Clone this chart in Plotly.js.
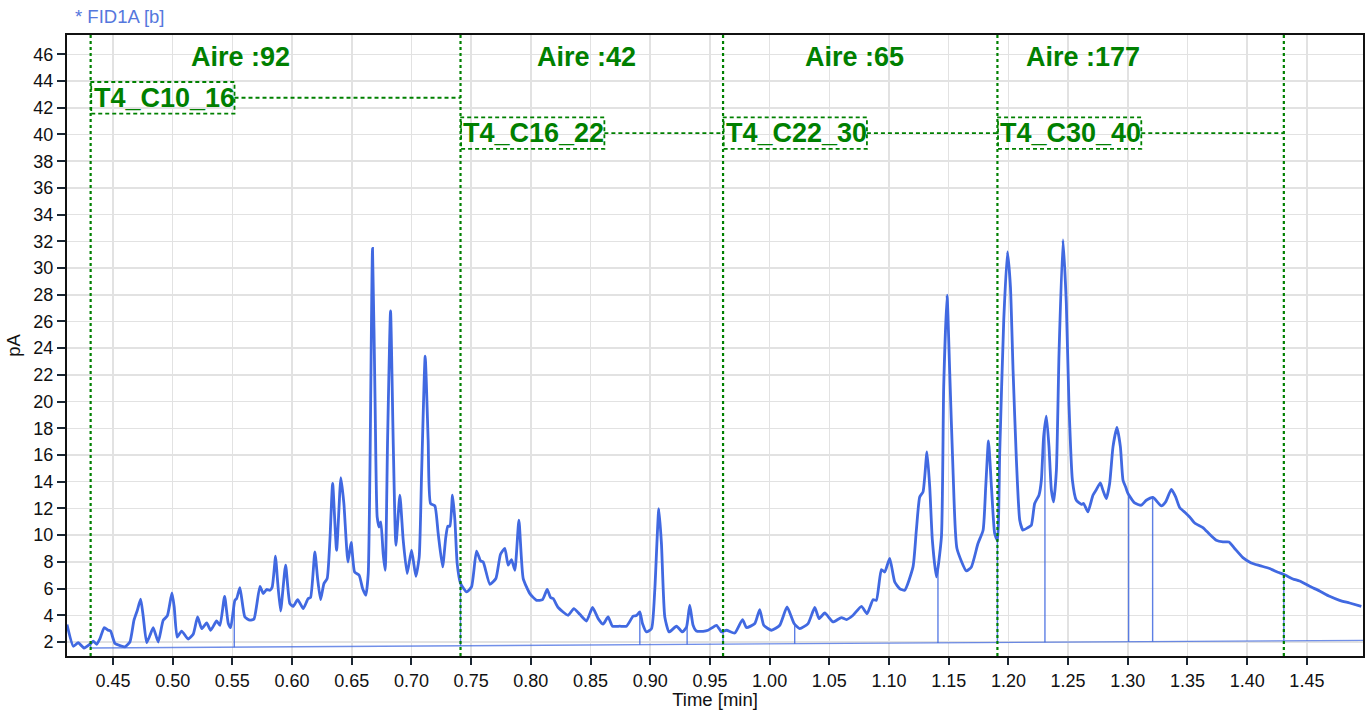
<!DOCTYPE html>
<html>
<head>
<meta charset="utf-8">
<script src="https://cdn.plot.ly/plotly-3.0.1.min.js"></script>
<style>
  html, body { margin: 0; padding: 0; background: #ffffff; }
  #chart { width: 1370px; height: 710px; }
</style>
</head>
<body>
<div id="chart"></div>
<script>
// ---------------- DATA ----------------
const times = [
  0.4115,0.4168,0.4209,0.4257,0.4313,0.4335,0.4363,0.4391,0.4427,0.446,0.448,0.4517,0.4559,0.46,0.4642,0.4676,0.4704,0.4732,0.4754,0.4782,
  0.481,0.4837,0.4879,0.4921,0.4955,0.4994,0.5013,0.5038,0.5075,0.513,0.5172,0.5209,0.5243,0.5285,0.5318,0.5368,0.5396,0.5435,0.5466,0.5486,
  0.5521,0.5536,0.5563,0.5605,0.5647,0.5681,0.5731,0.5759,0.5787,0.5815,0.5834,0.5862,0.5876,0.5904,0.5946,0.5982,0.601,0.6047,0.6094,0.6135,
  0.6155,0.6191,0.6214,0.6239,0.6267,0.6294,0.6317,0.634,0.6373,0.6409,0.6434,0.6468,0.6495,0.6524,0.6562,0.6591,0.6618,0.6638,0.6652,0.6674,
  0.6696,0.6713,0.673,0.6744,0.6763,0.678,0.68,0.6825,0.6847,0.687,0.6903,0.6931,0.6964,0.7001,0.7037,0.7065,0.7085,0.7115,0.714,0.716,
  0.7196,0.7224,0.7261,0.7288,0.7305,0.7322,0.7344,0.7364,0.7383,0.7411,0.7462,0.7503,0.7545,0.7579,0.7601,0.7657,0.7707,0.7746,0.7782,0.781,
  0.7838,0.7866,0.79,0.7936,0.7992,0.8048,0.8098,0.8137,0.8165,0.8187,0.8229,0.8312,0.836,0.841,0.8466,0.8517,0.8564,0.8605,0.8647,0.8684,
  0.8745,0.8801,0.8857,0.8885,0.8913,0.8935,0.8969,0.9011,0.9038,0.9072,0.9094,0.9122,0.9158,0.922,0.927,0.9304,0.9331,0.9359,0.9387,0.9443,
  0.9485,0.9555,0.9597,0.9639,0.9708,0.9773,0.9806,0.9876,0.9917,0.9951,1.0016,1.0085,1.0146,1.0205,1.0252,1.0322,1.0378,1.0414,1.0462,1.0531,
  1.0601,1.0643,1.0699,1.0769,1.0816,1.0866,1.0894,1.0936,1.0964,1.1006,1.1048,1.1089,1.1131,1.1201,1.1229,1.1257,1.1285,1.1318,1.1341,1.1363,
  1.1397,1.1439,1.1458,1.1486,1.1508,1.1536,1.1569,1.1648,1.169,1.1745,1.1788,1.181,1.1833,1.1858,1.1885,1.1908,1.1927,1.1961,1.1992,1.2017,
  1.2039,1.2067,1.2095,1.2122,1.2164,1.2192,1.222,1.2256,1.2276,1.2295,1.2318,1.234,1.236,1.2379,1.2402,1.2424,1.2457,1.2485,1.2507,1.2536,
  1.2569,1.2611,1.263,1.2666,1.2708,1.2737,1.277,1.2792,1.282,1.2848,1.2876,1.2909,1.2938,1.296,1.2982,1.3001,1.3057,1.3113,1.3155,1.3211,
  1.3281,1.3317,1.3365,1.3401,1.3434,1.3484,1.3518,1.356,1.3629,1.3685,1.3741,1.3797,1.3847,1.3895,1.3964,1.4034,1.4104,1.4188,1.4257,1.4305,
  1.4383,1.4439,1.4523,1.4606,1.469,1.4774,1.4858,1.4956
];
const signal = [
  3.3,1.68,1.95,1.55,1.88,2.07,1.83,2.25,3.08,2.88,2.82,1.88,1.73,1.63,2.0,3.63,4.37,5.2,3.87,1.95,
  2.5,3.08,2.0,3.63,3.95,5.67,4.62,2.37,2.82,2.22,2.58,3.87,3.0,3.42,2.88,3.57,3.25,5.42,3.38,3.08,
  5.12,5.25,6.07,3.87,3.63,3.72,6.17,5.62,5.93,5.87,6.12,8.42,6.87,4.32,7.75,4.87,4.67,5.17,4.5,5.25,
  5.33,8.74,6.75,5.17,6.37,6.75,9.62,13.87,8.87,14.3,12.37,7.99,9.45,7.24,7.0,6.0,5.5,7.12,14.6,31.47,
  19.6,11.36,10.61,10.99,8.62,7.37,17.1,26.8,17.1,9.24,12.99,9.62,7.12,8.87,6.92,8.37,14.6,23.4,17.1,12.37,
  12.19,10.12,7.62,9.87,10.67,10.67,12.99,11.12,7.87,6.4,5.75,6.12,8.8,8.07,7.99,6.32,6.75,8.57,9.0,7.75,
  8.17,7.37,11.12,6.75,5.62,5.12,5.17,5.93,5.33,5.25,4.58,4.0,4.5,4.07,3.57,4.58,3.75,3.33,3.87,3.18,
  3.18,3.18,3.93,3.98,4.25,3.38,2.75,3.0,5.87,11.99,9.37,3.87,2.75,3.18,2.75,3.12,4.75,3.25,2.82,2.8,
  2.88,3.25,2.75,2.88,2.67,3.68,3.08,3.38,4.43,3.25,2.88,3.25,4.62,3.38,3.0,3.38,4.58,3.75,4.17,3.5,
  3.83,3.68,4.0,4.67,4.12,5.17,5.12,7.42,7.24,8.25,6.49,6.0,5.87,7.62,10.37,12.86,13.24,16.23,13.61,9.62,
  6.87,9.87,21.1,27.97,22.35,14.86,9.0,7.32,7.62,9.37,10.37,13.61,17.06,13.61,10.12,9.6,16.1,26.1,31.2,28.6,
  22.35,15.6,11.12,10.37,10.57,10.74,12.37,12.99,14.11,17.36,18.91,16.61,13.36,12.49,14.86,23.6,32.1,27.35,19.86,14.11,
  12.61,12.31,12.37,11.74,12.99,13.42,13.91,13.36,12.74,13.87,16.61,18.06,16.61,14.11,13.61,13.12,12.41,12.24,12.61,12.82,
  12.19,12.49,13.42,12.86,12.07,11.66,11.36,10.91,10.57,10.07,9.62,9.49,9.49,9.0,8.32,7.92,7.72,7.5,7.22,7.07,
  6.72,6.57,6.17,5.82,5.42,5.12,4.92,4.67
];
const baseTimes = [0.4313, 1.497];
const baseValues = [1.55, 2.12];
const dropTimes = [0.4313, 0.5516, 0.7411, 0.8913, 0.9309, 0.9610, 1.0210, 1.1410, 1.1908, 1.2306, 1.3007, 1.3208, 1.4307];
const boundaries = [0.4313, 0.7411, 0.9610, 1.1908, 1.4307];
const groupLabels = ['T4_C10_16', 'T4_C16_22', 'T4_C22_30', 'T4_C30_40'];
const groupAreas = [92, 42, 65, 177];
const labelLevels = [42.75, 40.1, 40.1, 40.1];
const xTickVals = [0.45,0.50,0.55,0.60,0.65,0.70,0.75,0.80,0.85,0.90,0.95,1.00,1.05,1.10,1.15,1.20,1.25,1.30,1.35,1.40,1.45];
const yTickVals = [2,4,6,8,10,12,14,16,18,20,22,24,26,28,30,32,34,36,38,40,42,44,46];

// ---------------- HELPERS ----------------
function interp(xs, ys, t) {
  if (t <= xs[0]) return ys[0];
  for (let i = 1; i < xs.length; i++) {
    if (t <= xs[i]) {
      const f = (t - xs[i-1]) / (xs[i] - xs[i-1]);
      return ys[i-1] + f * (ys[i] - ys[i-1]);
    }
  }
  return ys[ys.length - 1];
}

const BLUE = '#4169e1';
const GREEN = '#008000';
const BOXDOT = '4px,3px';
const VDOT = '3px,3px';

// drop lines
const dropX = [], dropY = [];
dropTimes.forEach(t => {
  dropX.push(t, t, null);
  dropY.push(interp(baseTimes, baseValues, t), interp(times, signal, t), null);
});

const traces = [
  { x: baseTimes, y: baseValues, type: 'scatter', mode: 'lines',
    line: { color: 'rgba(65,105,225,0.75)', width: 1.3 }, hoverinfo: 'skip', showlegend: false },
  { x: dropX, y: dropY, type: 'scatter', mode: 'lines',
    line: { color: 'rgba(65,105,225,0.85)', width: 1.4 }, hoverinfo: 'skip', showlegend: false },
  { x: times, y: signal, type: 'scatter', mode: 'lines',
    line: { color: BLUE, width: 2.8, shape: 'spline', smoothing: 0.5 }, showlegend: false }
];

// ---------------- LAYOUT ----------------
const boxWidth = 0.1205;
const boxHalf = 1.18;
const aireTextX = [0.557, 0.8465, 1.0713, 1.2622];
const aireTextY = 45.8;
const bigFont = { family: 'Liberation Sans, Arial, sans-serif', size: 27, color: GREEN };

const shapes = [];
const annotations = [];
boundaries.forEach(b => {
  shapes.push({ type: 'line', xref: 'x', yref: 'paper', x0: b, x1: b, y0: 0, y1: 1,
    line: { color: GREEN, width: 2.2, dash: VDOT } });
});
groupLabels.forEach((lab, i) => {
  const b = boundaries[i], lv = labelLevels[i];
  shapes.push({ type: 'rect', xref: 'x', yref: 'y', x0: b + 0.0005, x1: b + boxWidth,
    y0: lv - boxHalf, y1: lv + boxHalf, line: { color: GREEN, width: 1.8, dash: BOXDOT } });
  shapes.push({ type: 'line', xref: 'x', yref: 'y', x0: b + boxWidth, x1: boundaries[i+1],
    y0: lv, y1: lv, line: { color: GREEN, width: 1.8, dash: BOXDOT } });
  annotations.push({ xref: 'x', yref: 'y', x: b + 0.0008, y: lv, xanchor: 'left', yanchor: 'middle',
    text: '<b>' + lab + '</b>', showarrow: false, font: bigFont });
  annotations.push({ xref: 'x', yref: 'y', x: aireTextX[i], y: aireTextY, xanchor: 'center', yanchor: 'middle',
    text: '<b>Aire :' + groupAreas[i] + '</b>', showarrow: false, font: bigFont });
});

const axisFont = { family: 'Liberation Sans, Arial, sans-serif', size: 18, color: '#111111' };
const titleFont = { family: 'Liberation Sans, Arial, sans-serif', size: 18.5, color: '#111111' };

const layout = {
  width: 1370, height: 710,
  margin: { l: 67, r: 7, t: 35, b: 54 },
  paper_bgcolor: '#ffffff', plot_bgcolor: '#ffffff',
  font: axisFont,
  title: { text: '* FID1A [b]', x: 75 / 1370, xanchor: 'left', xref: 'container',
    y: 1 - 17 / 710, yanchor: 'middle', yref: 'container',
    font: { family: 'Liberation Sans, Arial, sans-serif', size: 18.5, color: '#5577dd' } },
  xaxis: {
    range: [0.4115, 1.497], tickmode: 'array', tickvals: xTickVals,
    ticktext: xTickVals.map(v => v.toFixed(2)),
    ticks: 'outside', ticklen: 7, tickwidth: 2, tickcolor: '#1b2733',
    showline: true, linecolor: '#111111', linewidth: 2, mirror: true,
    showgrid: true, gridcolor: '#e2e2e2', gridwidth: 1.5, zeroline: false,
    tickfont: axisFont,
    title: { text: 'Time [min]', font: titleFont, standoff: 2 }
  },
  yaxis: {
    range: [0.95, 47.45], tickmode: 'array', tickvals: yTickVals,
    ticks: 'outside', ticklen: 8, tickwidth: 2, tickcolor: '#1b2733',
    showline: true, linecolor: '#111111', linewidth: 2, mirror: true,
    showgrid: true, gridcolor: '#e2e2e2', gridwidth: 1.5, zeroline: false,
    tickfont: axisFont,
    title: { text: 'pA', font: titleFont, standoff: 8 }
  },
  shapes: shapes,
  annotations: annotations,
  showlegend: false
};

Plotly.newPlot('chart', traces, layout, { displayModeBar: false, staticPlot: true });
</script>
</body>
</html>
